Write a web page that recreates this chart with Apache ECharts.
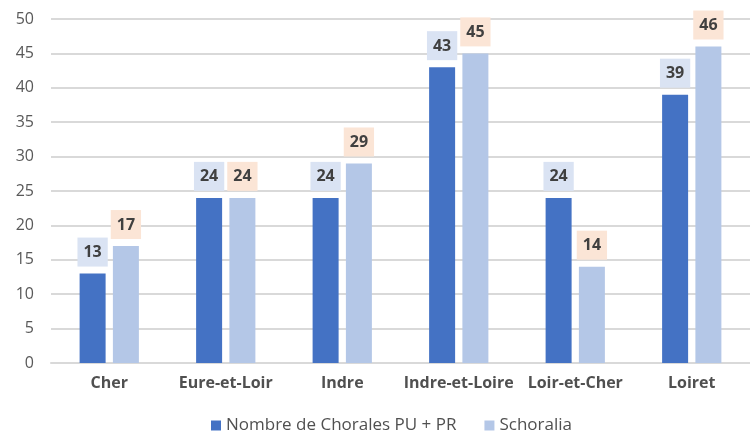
<!DOCTYPE html>
<html lang="fr">
<head>
    <meta charset="UTF-8">
    <title>Chorales</title>
    <script src="https://cdn.jsdelivr.net/npm/echarts@6/dist/echarts.min.js"></script>
</head>
<body style="margin:0">
<div id="bar" style="width: 750px;height: 439px;"></div>
<script>
    var categories = ['Cher', 'Eure-et-Loir', 'Indre', 'Indre-et-Loire', 'Loir-et-Cher', 'Loiret'];
    var chorales = [13, 24, 24, 43, 24, 39];
    var schoralia = [17, 24, 29, 45, 14, 46];
    var yTicks = [0, 5, 10, 15, 20, 25, 30, 35, 40, 45, 50];

    var font = 'Open Sans';
    var myChart = echarts.init(document.getElementById('bar'));

    // étiquette commune, seule la couleur de fond change
    function barLabel(bg) {
        return {
            show: true,
            position: 'top',
            distance: 7,
            fontSize: 16,
            fontWeight: 'bold',
            color: '#404040',
            backgroundColor: bg,
            padding: [7, 6, 6, 6]
        };
    }

    var option = {
        backgroundColor: '#ffffff',
        animation: false,
        textStyle: { fontFamily: font },
        grid: { left: 51, top: 19, width: 701, bottom: 76 },
        legend: {
            bottom: 0,
            left: 206,
            itemWidth: 10,
            itemHeight: 10,
            itemGap: 28,
            icon: 'rect',
            textStyle: { fontSize: 17, color: '#505050', fontFamily: font },
            data: ['Nombre de Chorales PU + PR', 'Schoralia']
        },
        xAxis: {
            type: 'category',
            data: categories,
            axisLine: { lineStyle: { color: '#D9D9D9', width: 2 } },
            axisTick: { show: false },
            axisLabel: { fontSize: 16, color: '#505050', margin: 12, fontWeight: 'bold', interval: 0 }
        },
        yAxis: {
            type: 'value',
            min: yTicks[0],
            max: yTicks[yTicks.length - 1],
            interval: yTicks[1] - yTicks[0],
            axisLine: { show: false },
            axisTick: { show: false },
            axisLabel: { fontSize: 16, color: '#595959', margin: 17 },
            splitLine: { lineStyle: { color: '#D9D9D9', width: 2 } }
        },
        series: [{
            name: 'Nombre de Chorales PU + PR',
            type: 'bar',
            data: chorales,
            barWidth: 26,
            barGap: '28%',
            itemStyle: { color: '#4472C4' },
            label: barLabel('#DAE3F3')
        }, {
            name: 'Schoralia',
            type: 'bar',
            data: schoralia,
            barWidth: 26,
            itemStyle: { color: '#B4C7E7' },
            label: barLabel('#FBE5D6')
        }]
    };
    myChart.setOption(option);
</script>
</body>
</html>
